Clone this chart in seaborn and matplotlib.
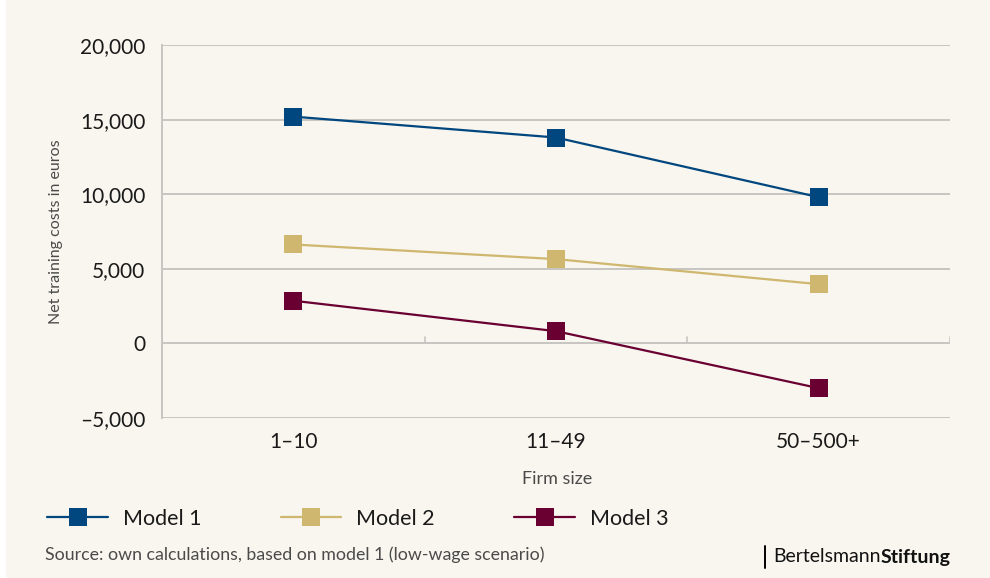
import matplotlib
matplotlib.use("Agg")
import matplotlib.pyplot as plt
import matplotlib.patches as mpatches
from matplotlib.lines import Line2D
import seaborn as sns
import pandas as pd

categories = ["1–10", "11–49", "50–500+"]
model1 = [15200, 13800, 9800]
model2 = [6630, 5650, 3970]
model3 = [2860, 820, -3000]
series_names = ["Model 1", "Model 2", "Model 3"]
colors = ["#00467f", "#cfb76f", "#6a0031"]
yticks = [-5000, 0, 5000, 10000, 15000, 20000]
ytick_labels = ["–5,000", "0", "5,000", "10,000", "15,000", "20,000"]

rows = []
for name, vals in zip(series_names, [model1, model2, model3]):
    for c, v in zip(categories, vals):
        rows.append({"Firm size": c, "value": v, "model": name})
df = pd.DataFrame(rows)

sns.set_theme(style="white")
plt.rcParams["font.family"] = ["Lato", "DejaVu Sans"]

BG = "#f8f6ee"
W, H = 990, 578
fig = plt.figure(figsize=(W / 100, H / 100), dpi=100)
fig.patch.set_facecolor(BG)
fig.patches.append(mpatches.Rectangle((0, 0), 6 / W, 1, transform=fig.transFigure,
                                      facecolor="white", edgecolor="none", zorder=0))

ax = fig.add_axes([162 / W, 1 - 418 / H, (950 - 162) / W, (418 - 45) / H])
ax.set_facecolor(BG)

palette = dict(zip(series_names, colors))
sns.lineplot(data=df, x="Firm size", y="value", hue="model", palette=palette,
             marker="s", markersize=12.5, markeredgewidth=0, linewidth=1.6,
             sort=False, legend=False, ax=ax, zorder=3)

ax.set_xlim(-0.5, 2.5)
ax.set_ylim(-5000, 20000)
ax.set_yticks(yticks)
ax.set_yticklabels(ytick_labels)
ax.set_xticks(range(len(categories)))
ax.set_xticklabels(categories)
for y in yticks:
    ax.axhline(y, color="#c6c5c1", linewidth=1.4, zorder=1)
# category boundary ticks on zero line
for xb in [-0.5, 0.5, 1.5, 2.5]:
    ax.plot([xb, xb], [0, 400], color="#c6c5c1", linewidth=1.2, zorder=1)

for s in ["top", "right", "bottom"]:
    ax.spines[s].set_visible(False)
ax.spines["left"].set_color("#c6c5c1")
ax.spines["left"].set_linewidth(1.4)

ax.tick_params(axis="both", length=0, labelsize=15, colors="#1a1a1a")
ax.tick_params(axis="y", pad=12)
ax.tick_params(axis="x", pad=10)
ax.set_xlabel("")
ax.set_ylabel("Net training costs in euros", fontsize=11.5, color="#4a4a4a", labelpad=12)

fig.text(557 / W, 1 - 479 / H, "Firm size", ha="center", va="center",
         fontsize=13, color="#4a4a4a")

handles = [Line2D([0], [0], color=c, linewidth=1.6, marker="s", markersize=12.5,
                  markeredgewidth=0) for c in colors]
leg = fig.legend(handles, series_names, loc="center left",
                 bbox_to_anchor=(28 / W, 1 - 519 / H), ncol=3, frameon=False,
                 fontsize=15.5, handlelength=2.8, handletextpad=0.7,
                 columnspacing=3.7)
for t in leg.get_texts():
    t.set_color("#1a1a1a")

fig.text(45 / W, 1 - 555 / H, "Source: own calculations, based on model 1 (low-wage scenario)",
         ha="left", va="center", fontsize=12.8, color="#4a4a4a")

fig.lines.append(Line2D([765 / W, 765 / W], [1 - 546 / H, 1 - 568 / H],
                        transform=fig.transFigure, color="black", linewidth=1.4))
t1 = fig.text(773 / W, 1 - 557 / H, "Bertelsmann", ha="left", va="center",
              fontsize=14, color="#111111")
fig.canvas.draw()
bb = t1.get_window_extent()
fig.text(bb.x1 / W, 1 - 557 / H, "Stiftung", ha="left", va="center",
         fontsize=14, color="#111111", fontweight="bold")

fig.savefig("out.png", dpi=100, facecolor=BG)
